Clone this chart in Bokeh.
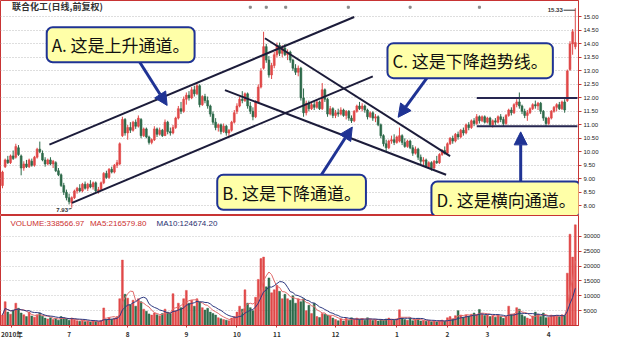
import numpy as np
import pandas as pd
from bokeh.plotting import figure
from bokeh.layouts import column
from bokeh.models import (ColumnDataSource, Range1d, FixedTicker, PrintfTickFormatter,
                          Label, Arrow, NormalHead, BasicTickFormatter)
from bokeh.embed import file_html
from bokeh.resources import INLINE
from bokeh.core.properties import value

# ---------------- data ----------------
month_labels = ["2010年", "7", "8", "9", "10", "11", "12", "1", "2", "3", "4"]
month_ticks = [3.5, 25, 47, 69, 88, 103, 125, 148, 167, 182, 205]

opens = [
    8.75, 9.45, 9.70, 9.60, 9.85, 9.80, 10.15, 9.85, 9.40, 9.55, 9.45, 9.65, 9.50, 9.80, 10.10, 9.95, 9.70, 9.55, 9.70, 9.55, 9.60, 9.30, 9.15, 8.75, 8.50,
    8.30, 8.10, 8.30, 8.55, 8.65, 8.55, 8.80, 8.65, 8.80, 8.70, 8.85, 8.55, 8.60, 8.85, 9.20, 9.05, 9.35, 9.25, 9.50, 9.55, 10.60, 11.20,
    10.70, 10.90, 10.80, 11.10, 10.95, 11.20, 10.60, 10.85, 10.55, 10.35, 10.45, 10.85, 10.65, 10.80, 10.60, 11.10, 10.75, 10.70, 10.90, 11.25, 11.60, 11.50,
    11.95, 12.10, 12.00, 12.30, 12.15, 12.45, 11.75, 12.05, 11.90, 11.70, 11.40, 11.10, 10.90, 11.00, 10.75, 10.95, 10.70, 10.80, 11.10,
    11.50, 11.70, 11.95, 11.90, 12.15, 11.70, 11.50, 11.30, 11.85, 12.40, 13.10, 13.90, 13.40, 12.85, 13.20,
    13.60, 13.95, 13.65, 13.85, 13.60, 13.70, 13.40, 13.10, 12.95, 13.10, 12.00, 11.45, 11.80, 11.60, 11.75, 11.65, 11.85, 11.60, 12.30, 11.95, 11.40, 11.60,
    11.35, 11.45, 11.40, 11.55, 11.35, 11.50, 11.25, 11.15, 11.50, 11.70, 11.60, 11.70, 11.55, 11.30, 11.45, 11.25, 11.30, 11.00, 10.60, 10.30, 10.15, 10.40, 10.45,
    10.35, 10.40, 10.60, 10.35, 10.20, 10.40, 10.15, 9.95, 10.10, 9.80, 9.65, 9.70, 9.45, 9.60, 9.40, 9.65, 9.60, 9.90, 10.05,
    9.95, 10.30, 10.50, 10.40, 10.65, 10.55, 10.80, 10.70, 11.00, 10.90, 11.15, 11.05, 11.30, 11.15, 11.30,
    11.10, 11.25, 11.00, 11.15, 11.10, 11.30, 11.20, 11.05, 11.35, 11.55, 11.45, 11.75, 11.85, 11.70, 11.50, 11.35, 11.45, 11.60, 11.75, 11.70, 11.80, 11.50, 11.25,
    11.05, 11.25, 11.50, 11.65, 11.75, 11.60, 11.85, 11.90, 13.05, 14.00, 13.90,
]
highs = [
    9.30, 9.75, 9.85, 9.90, 10.05, 10.30, 10.25, 9.90, 9.65, 9.70, 9.75, 9.75, 9.85, 10.15, 10.38, 10.05, 9.80, 9.75, 9.80, 9.70, 9.65, 9.40, 9.20, 8.85, 8.60,
    8.45, 8.35, 8.60, 8.70, 8.80, 8.85, 8.90, 8.85, 8.95, 8.90, 8.90, 8.70, 8.90, 9.25, 9.30, 9.40, 9.45, 9.55, 9.70, 10.35, 11.30, 11.25,
    11.00, 11.10, 11.15, 11.20, 11.35, 11.25, 10.90, 10.90, 10.60, 10.50, 10.95, 10.90, 10.90, 10.85, 11.20, 11.15, 10.90, 11.00, 11.30, 11.70, 11.85, 12.05,
    12.20, 12.25, 12.40, 12.45, 12.55, 12.50, 12.10, 12.15, 12.05, 11.75, 11.50, 11.25, 11.05, 11.05, 11.05, 11.00, 10.85, 11.15, 11.55,
    11.80, 12.05, 12.25, 12.20, 12.20, 11.85, 11.65, 11.90, 12.50, 13.10, 14.45, 14.00, 13.55, 13.30, 13.70,
    14.05, 14.05, 13.95, 14.00, 13.80, 13.75, 13.45, 13.25, 13.20, 13.15, 12.35, 11.90, 11.90, 11.85, 11.90, 11.95, 11.90, 12.55, 12.35, 12.00, 11.70, 11.65,
    11.55, 11.60, 11.65, 11.60, 11.55, 11.55, 11.35, 11.55, 11.75, 11.85, 11.80, 11.75, 11.60, 11.50, 11.50, 11.40, 11.35, 11.05, 10.65, 10.45, 10.45, 10.60, 10.65,
    10.60, 10.90, 10.65, 10.50, 10.45, 10.45, 10.25, 10.20, 10.15, 9.90, 9.80, 9.75, 9.65, 9.65, 9.70, 9.85, 9.95, 10.10, 10.20,
    10.35, 10.55, 10.60, 10.70, 10.75, 10.85, 10.90, 11.05, 11.10, 11.20, 11.25, 11.40, 11.35, 11.35, 11.35,
    11.30, 11.30, 11.20, 11.25, 11.35, 11.40, 11.30, 11.40, 11.60, 11.65, 11.80, 11.95, 12.20, 11.75, 11.60, 11.55, 11.65, 11.80, 11.90, 11.85, 11.85, 11.55, 11.30,
    11.30, 11.55, 11.70, 11.80, 11.85, 11.90, 11.95, 13.05, 14.10, 14.55, 15.33,
]
lows = [
    8.65, 9.40, 9.55, 9.55, 9.70, 9.75, 9.85, 9.13, 9.30, 9.40, 9.40, 9.45, 9.45, 9.75, 9.95, 9.65, 9.45, 9.50, 9.50, 9.40, 9.25, 9.10, 8.70, 8.40, 8.20,
    8.05, 7.93, 8.25, 8.45, 8.50, 8.50, 8.60, 8.55, 8.65, 8.60, 8.50, 8.45, 8.55, 8.80, 9.00, 9.00, 9.20, 9.20, 9.40, 9.50, 10.55, 10.60,
    10.45, 10.70, 10.75, 10.85, 10.90, 10.50, 10.55, 10.50, 10.27, 10.28, 10.40, 10.55, 10.60, 10.55, 10.60, 10.65, 10.60, 10.65, 10.85, 11.20, 11.40, 11.45,
    11.75, 11.90, 11.95, 12.05, 12.10, 11.65, 11.70, 11.80, 11.60, 11.30, 11.00, 10.80, 10.75, 10.65, 10.70, 10.60, 10.56, 10.75, 11.05,
    11.40, 11.65, 11.80, 11.85, 11.60, 11.40, 11.17, 11.25, 11.80, 12.35, 13.05, 13.30, 12.75, 12.70, 13.10,
    13.50, 13.55, 13.50, 13.55, 13.40, 13.30, 13.00, 12.85, 12.80, 11.90, 11.30, 11.35, 11.50, 11.55, 11.55, 11.60, 11.55, 11.55, 11.85, 11.30, 11.35, 11.25,
    11.25, 11.30, 11.35, 11.30, 11.20, 11.15, 11.07, 11.10, 11.45, 11.55, 11.50, 11.45, 11.20, 11.25, 11.15, 11.10, 10.95, 10.50, 10.20, 10.02, 10.10, 10.30, 10.25,
    10.30, 10.35, 10.25, 10.15, 10.15, 10.10, 9.85, 9.90, 9.70, 9.55, 9.50, 9.40, 9.40, 9.30, 9.35, 9.55, 9.55, 9.85, 9.90,
    9.90, 10.25, 10.30, 10.35, 10.45, 10.50, 10.60, 10.65, 10.80, 10.85, 10.95, 11.00, 11.05, 11.10, 11.05,
    11.05, 10.95, 10.90, 11.00, 11.05, 11.10, 10.95, 11.00, 11.30, 11.35, 11.40, 11.65, 11.60, 11.40, 11.25, 11.15, 11.40, 11.55, 11.60, 11.55, 11.40, 11.15, 10.95,
    11.00, 11.20, 11.45, 11.50, 11.55, 11.55, 11.45, 11.85, 13.00, 13.60, 13.80,
]
closes = [
    9.25, 9.70, 9.60, 9.85, 9.75, 10.20, 9.90, 9.40, 9.55, 9.45, 9.70, 9.50, 9.80, 10.10, 10.00, 9.70, 9.55, 9.70, 9.55, 9.65, 9.30, 9.15, 8.75, 8.50, 8.30,
    8.15, 8.30, 8.55, 8.65, 8.55, 8.80, 8.65, 8.80, 8.70, 8.85, 8.55, 8.60, 8.85, 9.20, 9.05, 9.35, 9.25, 9.50, 9.60, 10.30, 11.20, 10.70,
    10.90, 10.80, 11.10, 10.95, 11.25, 10.60, 10.85, 10.55, 10.35, 10.45, 10.85, 10.65, 10.80, 10.60, 11.10, 10.75, 10.70, 10.90, 11.25, 11.60, 11.50, 11.95,
    12.10, 12.00, 12.30, 12.15, 12.45, 11.75, 12.05, 11.90, 11.70, 11.40, 11.10, 10.90, 11.00, 10.75, 10.95, 10.70, 10.80, 11.10, 11.45,
    11.70, 11.95, 11.90, 12.15, 11.70, 11.50, 11.30, 11.85, 12.40, 13.00, 13.90, 13.40, 12.85, 13.20, 13.60,
    13.95, 13.65, 13.85, 13.60, 13.70, 13.40, 13.10, 12.95, 13.10, 12.00, 11.45, 11.80, 11.60, 11.75, 11.65, 11.85, 11.60, 12.30, 11.95, 11.40, 11.60, 11.35,
    11.45, 11.40, 11.55, 11.35, 11.50, 11.25, 11.15, 11.50, 11.70, 11.60, 11.70, 11.55, 11.30, 11.45, 11.25, 11.30, 11.00, 10.60, 10.30, 10.15, 10.40, 10.45, 10.35,
    10.55, 10.60, 10.35, 10.20, 10.40, 10.15, 9.95, 10.10, 9.80, 9.65, 9.70, 9.45, 9.60, 9.40, 9.65, 9.60, 9.90, 10.05, 9.95,
    10.30, 10.50, 10.40, 10.65, 10.55, 10.80, 10.70, 11.00, 10.90, 11.15, 11.05, 11.30, 11.15, 11.30, 11.10,
    11.25, 11.00, 11.15, 11.10, 11.30, 11.20, 11.05, 11.35, 11.55, 11.45, 11.75, 11.85, 11.70, 11.50, 11.35, 11.45, 11.60, 11.75, 11.70, 11.80, 11.50, 11.25, 11.05,
    11.25, 11.50, 11.65, 11.75, 11.60, 11.85, 11.55, 13.00, 14.00, 14.45, 14.05,
]
# volume in units of 10 shares (axis shows "X10")
volumes = [
    3500, 8000, 4500, 3800, 5200, 7500, 5800, 4200, 3600, 3000, 4500, 3200, 2800, 3600, 4200, 3100, 2500, 2200, 2600, 2000, 2400, 1800, 3000, 2600, 2200,
    1800, 2500, 2000, 1600, 1400, 1800, 1300, 1500, 1200, 1600, 1400, 1300, 1700, 5900, 2000, 2600, 2100, 2500, 3000, 9000, 22000, 10500,
    9200, 7000, 8500, 6500, 9000, 8000, 5500, 4800, 3900, 3500, 4200, 3600, 3300, 4000, 5500, 4500, 4000, 10700, 5000, 7500, 6000, 9000,
    11800, 7500, 8500, 6500, 9000, 8000, 6000, 5200, 5800, 4500, 4000, 3500, 2600, 2300, 2000, 1800, 1600, 2500, 3000,
    4500, 6500, 5500, 12000, 7500, 6000, 5000, 9500, 15500, 22500, 23000, 13000, 16000, 11000, 12000,
    13500, 11500, 9000, 10500, 9000, 8500, 10000, 7500, 9000, 8000, 9000, 5000, 6800, 4000, 7500, 3000, 2700, 4000, 3800, 3500, 3200, 2500,
    2000, 1600, 2200, 1500, 2400, 1800, 2600, 2200, 2500, 2000, 2300, 1800, 2600, 2100, 1700, 2000, 1500, 2000, 1800, 2200, 2500, 2000, 1800,
    2200, 5300, 2500, 2000, 1800, 2400, 1600, 2000, 2300, 1500, 1700, 1400, 1600, 1300, 1500, 1200, 1600, 1800, 1400,
    2600, 3000, 2200, 3300, 5000, 3500, 2800, 3500, 3200, 3800, 4200, 3600, 5400, 3800, 3400,
    3600, 3000, 3300, 2800, 3600, 3000, 2400, 3000, 6500, 3800, 3800, 6000, 5500, 3600, 3000, 2500, 2200, 3200, 4500, 3800, 3000, 4200, 2600,
    2800, 3500, 3200, 3400, 3000, 3600, 3400, 17600, 30700, 23000, 33857,
]

price_ticks = [8.0, 8.5, 9.0, 9.5, 10.0, 10.5, 11.0, 11.5, 12.0, 12.5, 13.0, 13.5, 14.0, 14.5, 15.0]
vol_ticks = [5000, 10000, 15000, 20000, 25000, 30000]

# trend lines: (day index, price)
line_a_upper = ([17.6, 132.0], [10.27, 15.00])
line_a_lower = ([26.1, 139.0], [8.11, 12.80])
line_b = ([83.5, 166.5], [12.29, 9.15])
line_c = ([98.5, 168.0], [14.21, 9.84])
line_d_upper = ([178.0, 215.8], [12.00, 12.00])
line_d_lower = ([178.0, 215.8], [10.95, 10.95])

header_volume = "VOLUME:338566.97"
header_ma5 = "MA5:216579.80"
header_ma10 = "MA10:124674.20"
title_text = "联合化工(日线,前复权)"
high_text = "15.33"
low_text = "7.93"
event_marks = [93.0, 99.0, 106.3, 129.8, 153.0, 179.0]

# ---------------- styling ----------------
RED = "#e04848"
GREEN = "#2d6a4a"
FRAME = "#c83434"
NAVY = "#1f3394"
LINE = "#1c1c3a"
CJK = "Noto Sans CJK SC"

n = len(closes)
idx = np.arange(n)
o = np.array(opens); h = np.array(highs); l = np.array(lows); c = np.array(closes)
up = c >= o
colors = np.where(up, RED, GREEN)
src = ColumnDataSource(dict(x=idx, o=o, h=h, l=l, c=c,
                            top=np.maximum(o, c), bottom=np.minimum(o, c),
                            color=colors, vol=np.array(volumes, dtype=float)))
vol_s = pd.Series(volumes, dtype=float)
ma5 = vol_s.rolling(5, min_periods=1).mean().values
ma10 = vol_s.rolling(10, min_periods=1).mean().values

FW = 578
xr = Range1d(-0.75, 216.2)

p = figure(frame_width=FW, frame_height=215, x_range=xr, y_range=Range1d(7.64, 15.61),
           output_backend="svg", toolbar_location=None,
           min_border_left=0, min_border_right=21, min_border_top=0, min_border_bottom=0,
           x_axis_location=None, y_axis_location="right")
p.outline_line_color = FRAME
p.outline_line_width = 1
p.background_fill_color = "white"
p.border_fill_color = "white"
p.xgrid.visible = False
p.ygrid.ticker = FixedTicker(ticks=price_ticks)
p.ygrid.grid_line_color = "#bdbdbd"
p.ygrid.grid_line_dash = "1 2"
ya = p.yaxis[0]
ya.ticker = FixedTicker(ticks=price_ticks)
ya.formatter = PrintfTickFormatter(format="%.2f")
ya.major_label_text_font_size = "6px"
ya.major_label_text_font = "Liberation Sans"
ya.major_label_text_color = "#222222"
ya.axis_line_color = FRAME
ya.major_tick_line_color = FRAME
ya.major_tick_in = 0
ya.major_tick_out = 3
ya.minor_tick_line_color = None
ya.major_label_standoff = 2

# candles
p.segment(x0="x", y0="l", x1="x", y1="h", color="color", line_width=1, source=src)
p.vbar(x="x", top="top", bottom="bottom", width=0.7, fill_color="color", line_color="color",
       line_width=0.6, source=src)

# trend lines
for xs, ys in [line_a_upper, line_a_lower, line_b, line_c]:
    p.line(xs, ys, line_color=LINE, line_width=2)
for xs, ys in [line_d_upper, line_d_lower]:
    p.line(xs, ys, line_color="#262650", line_width=2)

# title + marks
p.add_layout(Label(x=3.6, y=15.37, text=title_text, text_font=CJK, text_font_size="9px",
                   text_font_style="bold", text_color="#333333", text_baseline="middle"))
p.scatter(event_marks, [15.36] * len(event_marks), size=2, color="#888888", marker="square")
p.add_layout(Label(x=210.3, y=15.25, text=high_text, text_font="Liberation Sans", text_font_size="6px",
                   text_font_style="bold", text_color="#333333", text_align="right", text_baseline="middle"))
p.segment(x0=[210.6], y0=[15.25], x1=[215.0], y1=[15.25], line_color="#333333", line_width=1)
p.add_layout(Label(x=24.6, y=7.86, text=low_text, text_font="Liberation Sans", text_font_size="6px",
                   text_font_style="bold", text_color="#333333", text_align="right", text_baseline="middle"))
p.segment(x0=[24.8], y0=[7.88], x1=[25.9], y1=[7.9], line_color="#333333", line_width=1)

# callouts
def callout(x, y, txt):
    p.add_layout(Label(x=x, y=y, text=txt, text_font=CJK, text_font_size="17px",
                       text_color="#111111", text_baseline="middle", text_align="left",
                       background_fill_color="#ffffa8", background_fill_alpha=1.0,
                       border_line_color=NAVY, border_line_width=2, padding=5, border_radius=6))

def arrow(x0, y0, x1, y1):
    p.add_layout(Arrow(x_start=x0, y_start=y0, x_end=x1, y_end=y1, line_color=NAVY, line_width=3,
                       end=NormalHead(size=13, fill_color=NAVY, line_color=NAVY)))

arrow(50.7, 13.45, 61.8, 11.72)
arrow(118.8, 9.01, 131.3, 10.92)
arrow(160.3, 12.87, 148.5, 11.28)
arrow(194.5, 8.79, 194.5, 10.74)

callout(16.6, 13.97, "A. 这是上升通道。")
callout(80.6, 8.50, "B. 这是下降通道。")
callout(144.5, 13.38, "C. 这是下降趋势线。")
callout(161.0, 8.25, "D. 这是横向通道。")

# ---------------- volume panel ----------------
v = figure(frame_width=FW, frame_height=110, x_range=xr, y_range=Range1d(0, 37000),
           output_backend="svg", toolbar_location=None,
           min_border_left=0, min_border_right=21, min_border_top=0, min_border_bottom=12,
           y_axis_location="right")
v.outline_line_color = FRAME
v.background_fill_color = "white"
v.border_fill_color = "white"
v.xgrid.visible = False
v.ygrid.ticker = FixedTicker(ticks=vol_ticks)
v.ygrid.grid_line_color = "#c4c4c4"
v.ygrid.grid_line_dash = "1 2"
vy = v.yaxis[0]
vy.ticker = FixedTicker(ticks=vol_ticks)
vy.formatter = BasicTickFormatter(use_scientific=False)
vy.major_label_text_font_size = "6px"
vy.major_label_text_font = "Liberation Sans"
vy.major_label_text_color = "#222222"
vy.axis_line_color = FRAME
vy.major_tick_line_color = FRAME
vy.major_tick_in = 0
vy.major_tick_out = 3
vy.minor_tick_line_color = None
vy.major_label_standoff = 2
vx = v.xaxis[0]
vx.ticker = FixedTicker(ticks=month_ticks)
vx.major_label_overrides = {t: s for t, s in zip(month_ticks, month_labels)}
vx.major_label_text_font_size = "6.5px"
vx.major_label_text_font = CJK
vx.major_label_text_font_style = "bold"
vx.major_label_text_color = "#333333"
vx.axis_line_color = FRAME
vx.major_tick_line_color = FRAME
vx.major_tick_in = 0
vx.major_tick_out = 2
vx.minor_tick_line_color = None
vx.major_label_standoff = 1

v.vbar(x="x", top="vol", bottom=0, width=0.7, fill_color="color", line_color="color",
       line_width=0.5, source=src)
v.line(idx, ma5, line_color="#e06a6a", line_width=1)
v.line(idx, ma10, line_color="#2e3a80", line_width=1)

for xx, txt, col in [(3.0, header_volume, "#cc3030"), (32.8, header_ma5, "#cc3030"), (57.8, header_ma10, "#283070")]:
    v.add_layout(Label(x=xx, y=34300, text=txt, text_font="Liberation Sans", text_font_size="8px",
                       text_color=col, text_baseline="middle"))

layout = column(p, v, spacing=0)
open("out.html", "w").write(file_html(layout, INLINE))
